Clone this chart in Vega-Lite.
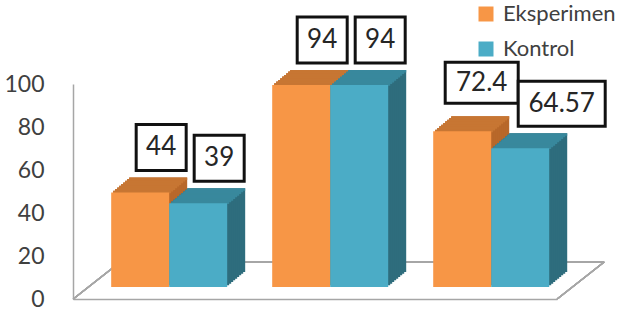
{
  "$schema": "https://vega.github.io/schema/vega-lite/v6.json",
  "width": 484,
  "height": 215,
  "autosize": {"type": "none"},
  "padding": {"left": 73, "top": 84, "right": 79, "bottom": 11},
  "background": "white",
  "data": {
    "values": [
      {"group": "A", "series": "Eksperimen", "value": 44, "label": "44"},
      {"group": "A", "series": "Kontrol", "value": 39, "label": "39"},
      {"group": "B", "series": "Eksperimen", "value": 94, "label": "94"},
      {"group": "B", "series": "Kontrol", "value": 94, "label": "94"},
      {"group": "C", "series": "Eksperimen", "value": 72.4, "label": "72.4"},
      {"group": "C", "series": "Kontrol", "value": 64.57, "label": "64.57"}
    ]
  },
  "layer": [
    {
      "mark": {"type": "rule", "color": "#a6a6a6", "strokeWidth": 1.5, "xOffset": 9, "x2Offset": 55},
      "encoding": {
        "x": {"datum": "A", "type": "nominal", "bandPosition": 0},
        "x2": {"datum": "C", "bandPosition": 1},
        "y": {"datum": 17.2, "type": "quantitative"}
      }
    },
    {
      "mark": {"type": "rule", "color": "#a6a6a6", "strokeWidth": 1.5, "xOffset": -38, "x2Offset": 9},
      "encoding": {
        "x": {"datum": "A", "type": "nominal", "bandPosition": 0},
        "x2": {"datum": "A", "bandPosition": 0},
        "y": {"datum": 0, "type": "quantitative"},
        "y2": {"datum": 17.2}
      }
    },
    {
      "mark": {"type": "rule", "color": "#a6a6a6", "strokeWidth": 1.5, "xOffset": 8, "x2Offset": 55},
      "encoding": {
        "x": {"datum": "C", "type": "nominal", "bandPosition": 1},
        "x2": {"datum": "C", "bandPosition": 1},
        "y": {"datum": 0, "type": "quantitative"},
        "y2": {"datum": 17.2}
      }
    },
    {
      "encoding": {
        "x": {"field": "group", "type": "nominal", "title": null, "scale": {"paddingInner": 0.28, "paddingOuter": 0.143, "align": 0.83}},
        "y": {"field": "value", "type": "quantitative", "title": null, "stack": null, "scale": {"domain": [0, 100], "nice": false}}
      },
      "layer": [
        {"transform": [{"filter": "datum.series === 'Eksperimen'"}], "mark": {"type": "bar", "width": 58, "color": "#B8682A", "xOffset": -11, "yOffset": -27, "y2Offset": -27}, "encoding": {"y2": {"datum": 0}}},
        {"transform": [{"filter": "datum.series === 'Eksperimen'"}], "mark": {"type": "bar", "width": 58, "color": "#B8682A", "xOffset": -13, "yOffset": -25.3, "y2Offset": -25.3}, "encoding": {"y2": {"datum": 0}}},
        {"transform": [{"filter": "datum.series === 'Eksperimen'"}], "mark": {"type": "bar", "width": 58, "color": "#B8682A", "xOffset": -15, "yOffset": -23.7, "y2Offset": -23.7}, "encoding": {"y2": {"datum": 0}}},
        {"transform": [{"filter": "datum.series === 'Eksperimen'"}], "mark": {"type": "bar", "width": 58, "color": "#B8682A", "xOffset": -17, "yOffset": -22, "y2Offset": -22}, "encoding": {"y2": {"datum": 0}}},
        {"transform": [{"filter": "datum.series === 'Eksperimen'"}], "mark": {"type": "bar", "width": 58, "color": "#B8682A", "xOffset": -19, "yOffset": -20.3, "y2Offset": -20.3}, "encoding": {"y2": {"datum": 0}}},
        {"transform": [{"filter": "datum.series === 'Eksperimen'"}], "mark": {"type": "bar", "width": 58, "color": "#B8682A", "xOffset": -21, "yOffset": -18.7, "y2Offset": -18.7}, "encoding": {"y2": {"datum": 0}}},
        {"transform": [{"filter": "datum.series === 'Eksperimen'"}], "mark": {"type": "bar", "width": 58, "color": "#B8682A", "xOffset": -23, "yOffset": -17, "y2Offset": -17}, "encoding": {"y2": {"datum": 0}}},
        {"transform": [{"filter": "datum.series === 'Eksperimen'"}], "mark": {"type": "bar", "width": 58, "color": "#B8682A", "xOffset": -25, "yOffset": -15.3, "y2Offset": -15.3}, "encoding": {"y2": {"datum": 0}}},
        {"transform": [{"filter": "datum.series === 'Eksperimen'"}], "mark": {"type": "bar", "width": 58, "color": "#B8682A", "xOffset": -27, "yOffset": -13.7, "y2Offset": -13.7}, "encoding": {"y2": {"datum": 0}}},

        {"transform": [{"filter": "datum.series === 'Kontrol'"}], "mark": {"type": "bar", "width": 58, "color": "#2E6D7D", "xOffset": 47, "yOffset": -27, "y2Offset": -27}, "encoding": {"y2": {"datum": 0}}},
        {"transform": [{"filter": "datum.series === 'Kontrol'"}], "mark": {"type": "bar", "width": 58, "color": "#2E6D7D", "xOffset": 45, "yOffset": -25.3, "y2Offset": -25.3}, "encoding": {"y2": {"datum": 0}}},
        {"transform": [{"filter": "datum.series === 'Kontrol'"}], "mark": {"type": "bar", "width": 58, "color": "#2E6D7D", "xOffset": 43, "yOffset": -23.7, "y2Offset": -23.7}, "encoding": {"y2": {"datum": 0}}},
        {"transform": [{"filter": "datum.series === 'Kontrol'"}], "mark": {"type": "bar", "width": 58, "color": "#2E6D7D", "xOffset": 41, "yOffset": -22, "y2Offset": -22}, "encoding": {"y2": {"datum": 0}}},
        {"transform": [{"filter": "datum.series === 'Kontrol'"}], "mark": {"type": "bar", "width": 58, "color": "#2E6D7D", "xOffset": 39, "yOffset": -20.3, "y2Offset": -20.3}, "encoding": {"y2": {"datum": 0}}},
        {"transform": [{"filter": "datum.series === 'Kontrol'"}], "mark": {"type": "bar", "width": 58, "color": "#2E6D7D", "xOffset": 37, "yOffset": -18.7, "y2Offset": -18.7}, "encoding": {"y2": {"datum": 0}}},
        {"transform": [{"filter": "datum.series === 'Kontrol'"}], "mark": {"type": "bar", "width": 58, "color": "#2E6D7D", "xOffset": 35, "yOffset": -17, "y2Offset": -17}, "encoding": {"y2": {"datum": 0}}},
        {"transform": [{"filter": "datum.series === 'Kontrol'"}], "mark": {"type": "bar", "width": 58, "color": "#2E6D7D", "xOffset": 33, "yOffset": -15.3, "y2Offset": -15.3}, "encoding": {"y2": {"datum": 0}}},
        {"transform": [{"filter": "datum.series === 'Kontrol'"}], "mark": {"type": "bar", "width": 58, "color": "#2E6D7D", "xOffset": 31, "yOffset": -13.7, "y2Offset": -13.7}, "encoding": {"y2": {"datum": 0}}},

        {"transform": [{"filter": "datum.series === 'Eksperimen'"}], "mark": {"type": "bar", "width": 58, "color": "#C77633", "xOffset": -11, "yOffset": -27, "y2Offset": -24.5}, "encoding": {"y2": {"field": "value"}}},
        {"transform": [{"filter": "datum.series === 'Eksperimen'"}], "mark": {"type": "bar", "width": 58, "color": "#C77633", "xOffset": -13, "yOffset": -25.3, "y2Offset": -22.8}, "encoding": {"y2": {"field": "value"}}},
        {"transform": [{"filter": "datum.series === 'Eksperimen'"}], "mark": {"type": "bar", "width": 58, "color": "#C77633", "xOffset": -15, "yOffset": -23.7, "y2Offset": -21.2}, "encoding": {"y2": {"field": "value"}}},
        {"transform": [{"filter": "datum.series === 'Eksperimen'"}], "mark": {"type": "bar", "width": 58, "color": "#C77633", "xOffset": -17, "yOffset": -22, "y2Offset": -19.5}, "encoding": {"y2": {"field": "value"}}},
        {"transform": [{"filter": "datum.series === 'Eksperimen'"}], "mark": {"type": "bar", "width": 58, "color": "#C77633", "xOffset": -19, "yOffset": -20.3, "y2Offset": -17.8}, "encoding": {"y2": {"field": "value"}}},
        {"transform": [{"filter": "datum.series === 'Eksperimen'"}], "mark": {"type": "bar", "width": 58, "color": "#C77633", "xOffset": -21, "yOffset": -18.7, "y2Offset": -16.2}, "encoding": {"y2": {"field": "value"}}},
        {"transform": [{"filter": "datum.series === 'Eksperimen'"}], "mark": {"type": "bar", "width": 58, "color": "#C77633", "xOffset": -23, "yOffset": -17, "y2Offset": -14.5}, "encoding": {"y2": {"field": "value"}}},
        {"transform": [{"filter": "datum.series === 'Eksperimen'"}], "mark": {"type": "bar", "width": 58, "color": "#C77633", "xOffset": -25, "yOffset": -15.3, "y2Offset": -12.8}, "encoding": {"y2": {"field": "value"}}},
        {"transform": [{"filter": "datum.series === 'Eksperimen'"}], "mark": {"type": "bar", "width": 58, "color": "#C77633", "xOffset": -27, "yOffset": -13.7, "y2Offset": -11.2}, "encoding": {"y2": {"field": "value"}}},

        {"transform": [{"filter": "datum.series === 'Kontrol'"}], "mark": {"type": "bar", "width": 58, "color": "#38889D", "xOffset": 47, "yOffset": -27, "y2Offset": -24.5}, "encoding": {"y2": {"field": "value"}}},
        {"transform": [{"filter": "datum.series === 'Kontrol'"}], "mark": {"type": "bar", "width": 58, "color": "#38889D", "xOffset": 45, "yOffset": -25.3, "y2Offset": -22.8}, "encoding": {"y2": {"field": "value"}}},
        {"transform": [{"filter": "datum.series === 'Kontrol'"}], "mark": {"type": "bar", "width": 58, "color": "#38889D", "xOffset": 43, "yOffset": -23.7, "y2Offset": -21.2}, "encoding": {"y2": {"field": "value"}}},
        {"transform": [{"filter": "datum.series === 'Kontrol'"}], "mark": {"type": "bar", "width": 58, "color": "#38889D", "xOffset": 41, "yOffset": -22, "y2Offset": -19.5}, "encoding": {"y2": {"field": "value"}}},
        {"transform": [{"filter": "datum.series === 'Kontrol'"}], "mark": {"type": "bar", "width": 58, "color": "#38889D", "xOffset": 39, "yOffset": -20.3, "y2Offset": -17.8}, "encoding": {"y2": {"field": "value"}}},
        {"transform": [{"filter": "datum.series === 'Kontrol'"}], "mark": {"type": "bar", "width": 58, "color": "#38889D", "xOffset": 37, "yOffset": -18.7, "y2Offset": -16.2}, "encoding": {"y2": {"field": "value"}}},
        {"transform": [{"filter": "datum.series === 'Kontrol'"}], "mark": {"type": "bar", "width": 58, "color": "#38889D", "xOffset": 35, "yOffset": -17, "y2Offset": -14.5}, "encoding": {"y2": {"field": "value"}}},
        {"transform": [{"filter": "datum.series === 'Kontrol'"}], "mark": {"type": "bar", "width": 58, "color": "#38889D", "xOffset": 33, "yOffset": -15.3, "y2Offset": -12.8}, "encoding": {"y2": {"field": "value"}}},
        {"transform": [{"filter": "datum.series === 'Kontrol'"}], "mark": {"type": "bar", "width": 58, "color": "#38889D", "xOffset": 31, "yOffset": -13.7, "y2Offset": -11.2}, "encoding": {"y2": {"field": "value"}}},

        {
          "transform": [{"filter": "datum.series === 'Eksperimen'"}],
          "mark": {"type": "bar", "width": 58, "xOffset": -29, "yOffset": -12, "y2Offset": -12},
          "encoding": {
            "y2": {"datum": 0},
            "color": {
              "field": "series", "type": "nominal",
              "scale": {"domain": ["Eksperimen", "Kontrol"], "range": ["#F79646", "#4BACC6"]},
              "legend": {"orient": "none", "legendX": 402, "legendY": -81, "title": null, "symbolType": "square", "symbolSize": 225, "symbolStrokeWidth": 0, "labelFontSize": 22, "labelFont": "Lato", "labelColor": "#404040", "rowPadding": 13, "labelOffset": 6, "padding": 0, "labelLimit": 300}
            }
          }
        },
        {
          "transform": [{"filter": "datum.series === 'Kontrol'"}],
          "mark": {"type": "bar", "width": 58, "xOffset": 29, "yOffset": -12, "y2Offset": -12},
          "encoding": {
            "y2": {"datum": 0},
            "color": {"field": "series", "type": "nominal"}
          }
        },

        {
          "transform": [{"filter": "datum.series === 'Eksperimen' && datum.label != '72.4'"}],
          "mark": {"type": "bar", "width": 50, "xOffset": -8, "yOffset": -80, "y2Offset": -34, "fill": "white", "stroke": "#111111", "strokeWidth": 3},
          "encoding": {"y2": {"field": "value"}}
        },
        {
          "transform": [{"filter": "datum.series === 'Kontrol' && datum.label != '64.57'"}],
          "mark": {"type": "bar", "width": 50, "xOffset": 50, "yOffset": -80, "y2Offset": -34, "fill": "white", "stroke": "#111111", "strokeWidth": 3},
          "encoding": {"y2": {"field": "value"}}
        },
        {
          "transform": [{"filter": "datum.label == '72.4'"}],
          "mark": {"type": "bar", "width": 73, "xOffset": -9.5, "yOffset": -81, "y2Offset": -40, "fill": "white", "stroke": "#111111", "strokeWidth": 3},
          "encoding": {"y2": {"field": "value"}}
        },
        {
          "transform": [{"filter": "datum.label == '64.57'"}],
          "mark": {"type": "bar", "width": 87, "xOffset": 70.5, "yOffset": -79, "y2Offset": -34, "fill": "white", "stroke": "#111111", "strokeWidth": 3},
          "encoding": {"y2": {"field": "value"}}
        },

        {
          "transform": [{"filter": "datum.series === 'Eksperimen' && datum.label != '72.4'"}],
          "mark": {"type": "text", "font": "Lato", "fontSize": 26, "color": "#262626", "baseline": "middle", "align": "center", "xOffset": -8, "yOffset": -57},
          "encoding": {"text": {"field": "label"}}
        },
        {
          "transform": [{"filter": "datum.series === 'Kontrol' && datum.label != '64.57'"}],
          "mark": {"type": "text", "font": "Lato", "fontSize": 26, "color": "#262626", "baseline": "middle", "align": "center", "xOffset": 50, "yOffset": -57},
          "encoding": {"text": {"field": "label"}}
        },
        {
          "transform": [{"filter": "datum.label == '72.4'"}],
          "mark": {"type": "text", "font": "Lato", "fontSize": 26, "color": "#262626", "baseline": "middle", "align": "center", "xOffset": -9.5, "yOffset": -60.5},
          "encoding": {"text": {"field": "label"}}
        },
        {
          "transform": [{"filter": "datum.label == '64.57'"}],
          "mark": {"type": "text", "font": "Lato", "fontSize": 26, "color": "#262626", "baseline": "middle", "align": "center", "xOffset": 70.5, "yOffset": -56.5},
          "encoding": {"text": {"field": "label"}}
        }
      ]
    }
  ],
  "config": {
    "view": {"stroke": null},
    "axis": {"grid": false, "ticks": false, "domainColor": "#a6a6a6", "domainWidth": 1.5, "labelFont": "Lato", "labelColor": "#404040"},
    "axisY": {"labelFontSize": 23, "labelPadding": 29, "tickCount": 5},
    "axisX": {"labels": false}
  }
}
